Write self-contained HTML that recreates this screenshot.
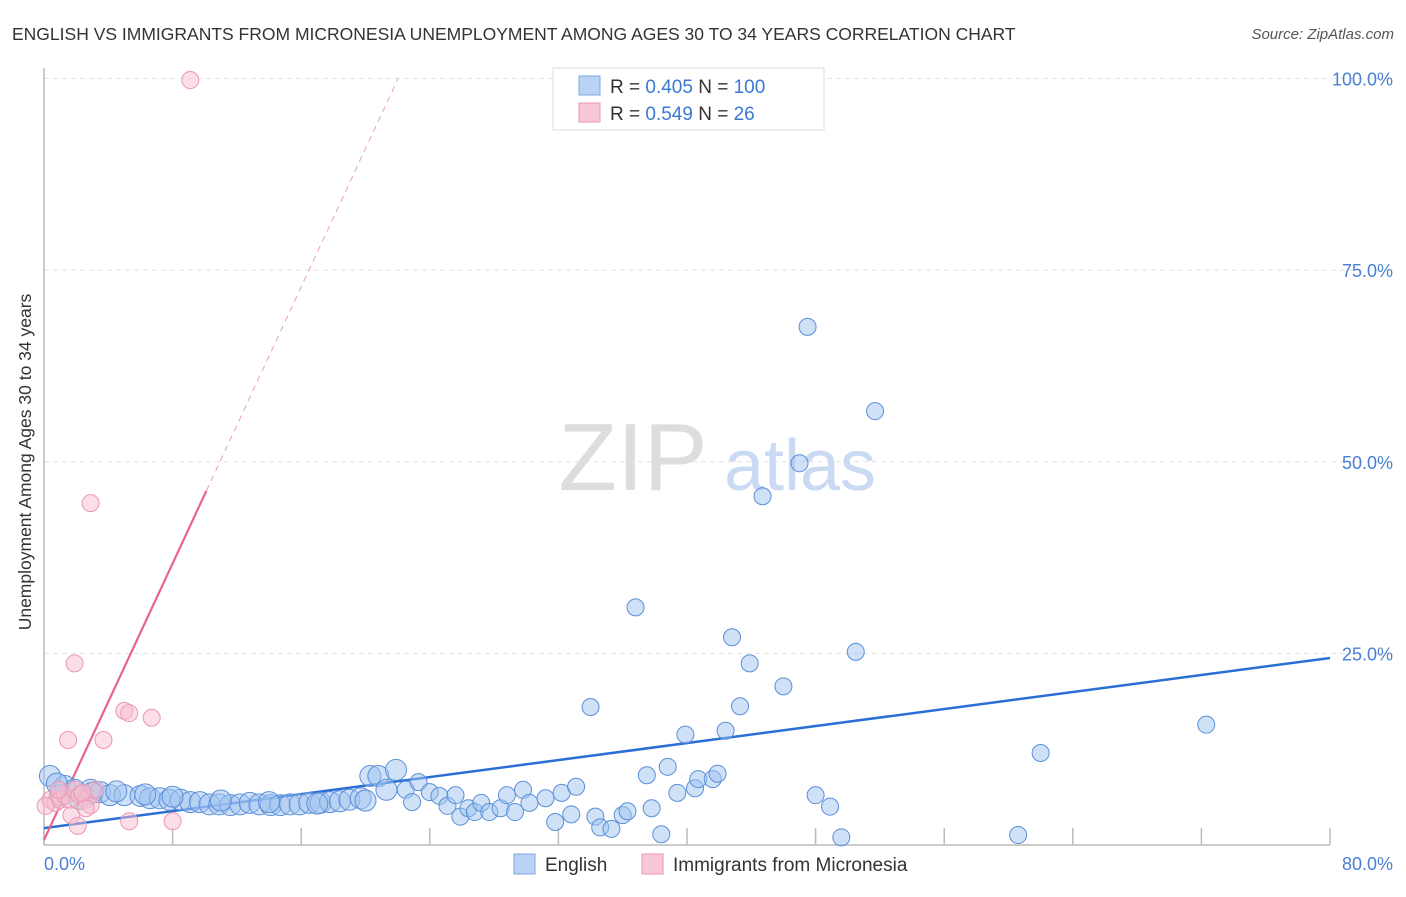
<!DOCTYPE html>
<html><head><meta charset="utf-8"><style>
body{margin:0;background:#fff;font-family:"Liberation Sans",sans-serif;}
svg text{font-family:"Liberation Sans",sans-serif;}
</style></head><body>
<svg id="chart" width="1406" height="892" viewBox="0 0 1406 892">
<text x="12" y="40" font-size="17.5" fill="#333">ENGLISH VS IMMIGRANTS FROM MICRONESIA UNEMPLOYMENT AMONG AGES 30 TO 34 YEARS CORRELATION CHART</text>
<text x="1394" y="39" font-size="15" fill="#555" font-style="italic" text-anchor="end">Source: ZipAtlas.com</text>
<text x="24" y="455" font-size="17.5" fill="#333" text-anchor="middle" transform="rotate(-90 31 455)">Unemployment Among Ages 30 to 34 years</text>
<g id="grid"></g>
<g><text x="633" y="490" font-size="96" fill="#ddd" font-family="Liberation Serif" text-anchor="middle">ZIP</text><text x="800" y="490" font-size="72" fill="#c9daf2" text-anchor="middle">atlas</text></g>
<line x1="44" y1="68" x2="44" y2="845" stroke="#bbb" stroke-width="1.5"/>
<line x1="44" y1="845" x2="1330" y2="845" stroke="#bbb" stroke-width="1.5"/>
<g id="ticks"></g>
<g id="lines"></g>
<g id="pts"></g>
<text x="44" y="870" font-size="18" fill="#4a7fd4">0.0%</text>
<text x="1393" y="870" font-size="18" fill="#4a7fd4" text-anchor="end">80.0%</text>
<g>
<rect x="553" y="68" width="271" height="62" fill="#fff" stroke="#ddd"/>
<rect x="579" y="76" width="21" height="19" fill="#b9d2f5" stroke="#7fa6e0"/>
<rect x="579" y="103" width="21" height="19" fill="#f9c8d7" stroke="#ec97b1"/>
<text x="610" y="93" font-size="19" fill="#333">R = <tspan fill="#3a78d4">0.405</tspan>   N = <tspan fill="#3a78d4">100</tspan></text>
<text x="610" y="120" font-size="19" fill="#333">R = <tspan fill="#3a78d4">0.549</tspan>   N = <tspan fill="#3a78d4">  26</tspan></text>
</g>
<g>
<rect x="514" y="854" width="21" height="20" fill="#b9d2f5" stroke="#7fa6e0"/>
<text x="545" y="871" font-size="19" fill="#333">English</text>
<rect x="642" y="854" width="21" height="20" fill="#f9c8d7" stroke="#ec97b1"/>
<text x="673" y="871" font-size="19" fill="#333">Immigrants from Micronesia</text>
</g>
</svg>
<script>
const yTicks=[25,50,75,100];
const yTickLabels=["25.0%","50.0%","75.0%","100.0%"];
const xTicks=[0,8,16,24,32,40,48,56,64,72,80];
const englishX=[0.37,1.3,1.9,2.9,3.5,4.1,5.0,6.0,6.6,7.2,7.8,8.5,9.1,9.7,10.3,10.9,11.6,12.2,12.8,13.4,14.1,14.7,15.3,15.9,16.5,17.2,17.8,18.4,19.0,19.7,20.3,20.8,21.3,21.9,22.5,22.9,23.3,24.0,24.6,25.1,25.6,25.9,26.4,26.8,27.2,27.7,28.4,28.8,29.3,29.8,30.2,31.2,31.8,32.2,32.8,33.1,34.0,34.3,34.6,35.3,36.0,36.3,36.8,37.5,37.8,38.4,38.8,39.4,39.9,40.5,40.7,41.6,41.9,42.4,42.8,43.3,43.9,44.7,46.0,47.0,47.5,48.0,48.9,49.6,50.5,51.7,60.6,62.0,72.3,1.0,2.2,4.5,8.0,6.3,3.0,11.0,14.0,17.0,20.0,0.8];
const englishY=[9.0,7.7,7.2,7.2,6.9,6.5,6.5,6.4,6.1,6.1,5.9,5.9,5.6,5.6,5.3,5.3,5.2,5.3,5.5,5.3,5.2,5.2,5.3,5.3,5.5,5.5,5.6,5.7,5.9,6.1,9.0,9.0,7.2,9.8,7.2,5.6,8.2,6.9,6.4,5.1,6.5,3.7,4.8,4.3,5.5,4.3,4.8,6.5,4.3,7.2,5.5,6.1,3.0,6.8,4.0,7.6,18.0,3.7,2.3,2.1,3.9,4.4,31.0,9.1,4.8,1.4,10.2,6.8,14.4,7.4,8.6,8.6,9.3,14.9,27.1,18.1,23.7,45.5,20.7,49.8,67.6,6.5,5.0,1.0,25.2,56.6,1.3,12.0,15.7,6.5,6.0,7.0,6.3,6.6,6.8,5.8,5.6,5.4,5.8,8.0];
const microX=[9.1,2.9,1.9,5.0,5.3,6.7,1.5,3.7,0.4,0.7,1.0,1.3,1.6,1.9,2.2,2.6,2.9,3.2,1.7,2.1,2.6,5.3,8.0,0.9,0.1,2.4];
const microY=[99.8,44.6,23.7,17.5,17.2,16.6,13.7,13.7,5.9,5.5,5.9,6.5,5.9,7.2,6.5,5.9,5.2,7.2,3.9,2.5,4.8,3.1,3.1,7.2,5.1,6.8];
const englishTrend=[2.2,24.4];   // y at x=0 and x=80
const microTrend=[0.65,4.51];    // intercept, slope
const sx=v=>44+v*16.075, sy=v=>845-v*7.665;
const NS="http://www.w3.org/2000/svg";
function mk(tag,attrs,parent){const e=document.createElementNS(NS,tag);for(const k in attrs)e.setAttribute(k,attrs[k]);parent.appendChild(e);return e;}
const grid=document.getElementById('grid');
yTicks.forEach((t,i)=>{
 const l=mk('line',{x1:44,x2:1394,y1:sy(t),y2:sy(t),stroke:'#e2e2e2','stroke-dasharray':'5,4'},grid);
 
 
 const tx=mk('text',{x:1393,y:sy(t)+7,'font-size':18,fill:'#4a7fd4','text-anchor':'end'},grid);
 tx.textContent=yTickLabels[i];
 
 
});
const ticks=document.getElementById('ticks');
xTicks.forEach(t=>{
 const l=mk('line',{x1:sx(t),x2:sx(t),y1:828,y2:845,stroke:'#bbb','stroke-width':1.5},ticks);
 
 
});
const pts=document.getElementById('pts');
englishX.forEach((x,i)=>{
 const r=x<22?10.5:8.5;
 const c=mk('circle',{cx:sx(x),cy:sy(englishY[i]),r:r,fill:'rgba(160,195,240,0.5)',stroke:'#5b8fd9','stroke-width':1},pts);
 
 
});
microX.forEach((x,i)=>{
 const c=mk('circle',{cx:sx(x),cy:sy(microY[i]),r:8.5,fill:'rgba(248,190,208,0.5)',stroke:'#ea98b2','stroke-width':1},pts);
 
 
});
const lines=document.getElementById('lines');
const bl=mk('line',{x1:sx(0),y1:sy(englishTrend[0]),x2:sx(80),y2:sy(englishTrend[1]),stroke:'#2a6fd6','stroke-width':2.5},lines);


const xEnd=10.1, xDash=(100-microTrend[0])/microTrend[1];
const pl=mk('line',{x1:sx(0),y1:sy(microTrend[0]),x2:sx(xEnd),y2:sy(microTrend[0]+microTrend[1]*xEnd),stroke:'#e8648f','stroke-width':2.2},lines);


const pd=mk('line',{x1:sx(xEnd),y1:sy(microTrend[0]+microTrend[1]*xEnd),x2:sx(xDash),y2:sy(100),stroke:'#eaa0b8','stroke-width':1,'stroke-dasharray':'6,5'},lines);


</script>
</body></html>
